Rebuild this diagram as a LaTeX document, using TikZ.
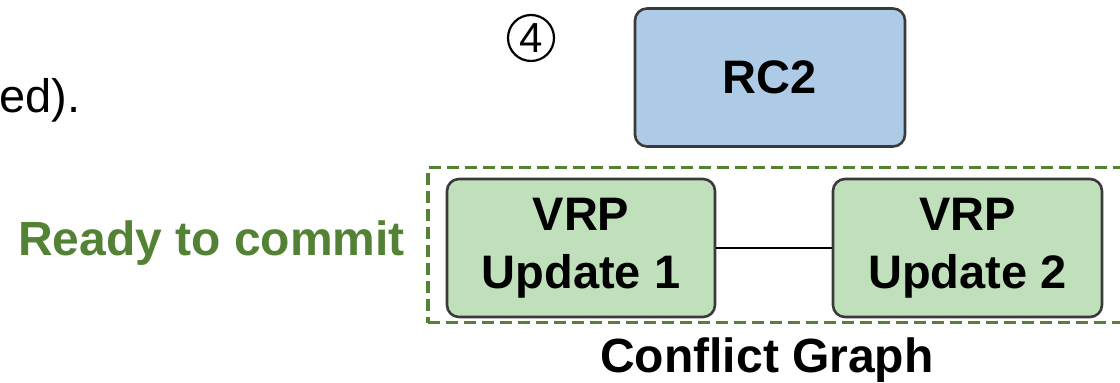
\documentclass[tikz,border=0pt]{standalone}
\usepackage{fontspec}
\setmainfont{Liberation Sans}
\definecolor{boxline}{HTML}{3A3A3A}
\definecolor{rcfill}{HTML}{ADCBE7}
\definecolor{vrpfill}{HTML}{BFE0BA}
\definecolor{okgreen}{HTML}{548235}
\begin{document}
\begin{tikzpicture}[x=1pt,y=-1pt,
  box/.style={draw=boxline, line width=2.6pt, rounded corners=12pt, inner sep=0pt,
    minimum width=268pt, minimum height=138pt, align=center,
    font=\fontsize{47}{58}\selectfont\bfseries},
  groupbox/.style={draw=okgreen, line width=3.2pt, dash pattern=on 12pt off 6pt,
    inner sep=0pt},
  label/.style={inner sep=0pt, font=\fontsize{48}{58}\selectfont\bfseries},
  stepmark/.style={circle, draw=black, line width=2.2pt, inner sep=0pt,
    minimum size=46pt, font=\fontsize{42}{42}\selectfont},
  edge/.style={draw=black, line width=2pt}]
\useasboundingbox (0,0) rectangle (1120,383);
\clip (0,0) rectangle (1120,383);

% tail of the preceding sentence
\node[anchor=base west, inner sep=0pt, font=\fontsize{47}{58}\selectfont] (tail) at (-1,112) {ed).};

% step marker
\node[stepmark] (step4) at (531,38) {4};

% conflict graph group
\node[groupbox, minimum width=712pt, minimum height=155pt] (graph) at (784,245) {};

\node[box, fill=rcfill, minimum width=270pt] (rc2) at (770,77.5) {RC2};
\node[box, fill=vrpfill] (vrp1) at (581,248) {VRP\\Update 1};
\node[box, fill=vrpfill, minimum width=269pt] (vrp2) at (967.5,248) {VRP\\Update 2};

\draw[edge] (vrp1.east) -- (vrp2.west);

\node[label, text=okgreen, anchor=base west] (ready) at (18,255) {Ready to commit};
\node[label, anchor=base] (cgraph) at (767,372) {Conflict Graph};
\end{tikzpicture}
\end{document}
